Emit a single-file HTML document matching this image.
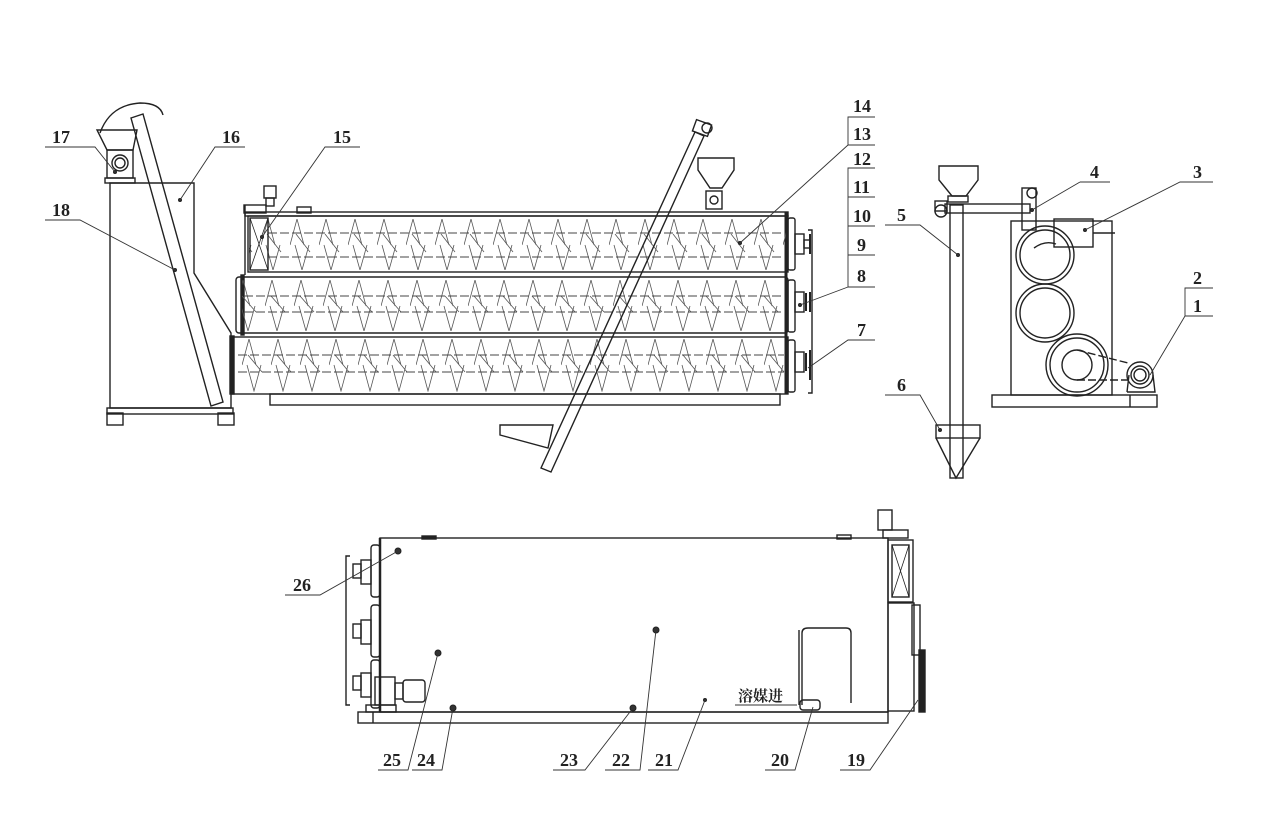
<!DOCTYPE html>
<html><head><meta charset="utf-8"><style>
html,body{margin:0;padding:0;background:#fff;}
svg{display:block}
text{font-family:"Liberation Serif","Noto Serif CJK SC",serif;font-size:18px;font-weight:bold;fill:#222}
</style></head><body>
<svg width="1268" height="826" viewBox="0 0 1268 826" xmlns="http://www.w3.org/2000/svg">
<defs>
<pattern id="s1" patternUnits="userSpaceOnUse" x="0" y="0" width="29" height="826">
 <path d="M0,245 L7,219 L14,245 M5,245 L12,270 L19,245 M6,234 L20,252" fill="none" stroke="#555" stroke-width="0.8"/>
</pattern>
<pattern id="s2" patternUnits="userSpaceOnUse" x="4" y="0" width="29" height="826">
 <path d="M0,306 L7,280 L14,306 M5,306 L12,331 L19,306 M6,296 L20,312" fill="none" stroke="#555" stroke-width="0.8"/>
</pattern>
<pattern id="s3" patternUnits="userSpaceOnUse" x="10" y="0" width="29" height="826">
 <path d="M0,365 L7,339 L14,365 M5,365 L12,391 L19,365 M6,355 L20,372" fill="none" stroke="#555" stroke-width="0.8"/>
</pattern>
</defs>
<g fill="none" stroke="#222" stroke-width="1.4">
<path d="M110,183 L194,183 L194,273 L231,333 L231,408 L110,408 Z"/>
<rect x="107" y="408" width="126" height="6"/>
<rect x="107" y="413" width="16" height="12"/><rect x="218" y="413" width="16" height="12"/>
<path d="M100,133 Q110,105 140,103 Q160,103 163,115" />
<path d="M97,130 L137,130 L133,150 L107,150 Z"/>
<rect x="107" y="150" width="26" height="28"/><circle cx="120" cy="163" r="8"/><circle cx="120" cy="163" r="5"/>
<rect x="105" y="178" width="30" height="5"/>
<path d="M131,118 L143,114 L223,402 L211,406 Z"/>
<rect x="245" y="212" width="543" height="4"/>
<rect x="248" y="216" width="540" height="56"/>
<rect x="236" y="277" width="552" height="56" rx="3"/>
<rect x="232" y="337" width="556" height="57"/>
<rect x="270" y="394" width="510" height="11"/>
<rect x="230" y="336" width="4" height="58" fill="#222"/>
<rect x="241" y="275" width="3" height="60" fill="#222"/>
<line x1="786" y1="212" x2="786" y2="394" stroke-width="3"/>
<rect x="249" y="219" width="537" height="51" fill="url(#s1)" stroke="none"/>
<rect x="242" y="280" width="544" height="51" fill="url(#s2)" stroke="none"/>
<rect x="236" y="339" width="550" height="53" fill="url(#s3)" stroke="none"/>
<g stroke="#444" stroke-width="0.9" stroke-dasharray="9,3">
<line x1="268" y1="233" x2="784" y2="233"/><line x1="268" y1="257" x2="784" y2="257"/>
<line x1="244" y1="296" x2="784" y2="296"/><line x1="244" y1="312" x2="784" y2="312"/>
<line x1="238" y1="355" x2="784" y2="355"/><line x1="238" y1="372" x2="784" y2="372"/>
</g>
<rect x="250" y="218" width="18" height="52"/><path d="M250,218 L268,270 M268,218 L250,270" stroke-width="0.8"/>
<rect x="244" y="205" width="22" height="8"/><line x1="245" y1="205" x2="245" y2="275"/>
<rect x="264" y="186" width="12" height="12"/><rect x="266" y="198" width="8" height="8"/>
<rect x="297" y="207" width="14" height="6"/>
<rect x="788" y="218" width="7" height="52" rx="2"/><rect x="788" y="280" width="7" height="52" rx="2"/><rect x="788" y="340" width="7" height="52" rx="2"/>
<rect x="795" y="234" width="9" height="20"/><rect x="804" y="240" width="6" height="8"/><line x1="810" y1="234" x2="810" y2="254" stroke-width="2"/>
<rect x="795" y="292" width="9" height="20"/><line x1="806" y1="293" x2="806" y2="311" stroke-width="2"/><line x1="810" y1="292" x2="810" y2="312" stroke-width="2"/>
<rect x="795" y="352" width="9" height="20"/><line x1="806" y1="353" x2="806" y2="371" stroke-width="2"/><line x1="810" y1="350" x2="810" y2="380" stroke-width="2"/>
<path d="M808,230 L812,230 L812,393 L808,393"/>
<path d="M695,132 L704,136 L551,472 L541,468 Z"/>
<rect x="694" y="122" width="16" height="12" transform="rotate(20 702 128)"/><circle cx="707" cy="128" r="5"/>
<path d="M500,425 L553,425 L548,448 L500,435 Z"/>
<path d="M698,158 L734,158 L734,170 L722,188 L710,188 L698,170 Z"/>
<rect x="706" y="191" width="16" height="18"/><circle cx="714" cy="200" r="4"/>
<rect x="950" y="205" width="13" height="273"/>
<path d="M939,166 L978,166 L978,180 L966,196 L952,196 L939,180 Z"/>
<rect x="948" y="196" width="20" height="6"/>
<rect x="945" y="204" width="85" height="9"/>
<circle cx="941" cy="211" r="6"/><rect x="935" y="201" width="12" height="10"/>
<rect x="1022" y="188" width="14" height="42"/><circle cx="1032" cy="193" r="5"/>
<rect x="1011" y="221" width="101" height="174"/>
<circle cx="1045" cy="255" r="29"/><circle cx="1045" cy="255" r="25"/>
<path d="M1034,248 Q1045,240 1056,244"/>
<circle cx="1045" cy="313" r="29"/><circle cx="1045" cy="313" r="25"/>
<circle cx="1077" cy="365" r="31"/><circle cx="1077" cy="365" r="27"/><circle cx="1077" cy="365" r="15"/>
<rect x="1054" y="219" width="39" height="28"/><line x1="1093" y1="233" x2="1115" y2="233"/>
<rect x="992" y="395" width="165" height="12"/><line x1="1130" y1="395" x2="1130" y2="407"/>
<circle cx="1140" cy="375" r="13"/><circle cx="1140" cy="375" r="9"/><circle cx="1140" cy="375" r="6"/>
<path d="M1127,392 L1155,392 L1153,375 M1127,392 L1129,375" />
<path d="M1077,350 L1128,363 M1077,380 L1128,380" stroke-dasharray="8,3"/>
<rect x="936" y="425" width="44" height="13"/><path d="M936,438 L956,478 L980,438"/>
<rect x="380" y="538" width="508" height="174"/>
<rect x="358" y="712" width="530" height="11"/><line x1="373" y1="712" x2="373" y2="723"/>
<line x1="380" y1="538" x2="380" y2="712" stroke-width="2.5"/>
<rect x="422" y="536" width="14" height="3" fill="#222"/><rect x="837" y="535" width="14" height="4"/>
<rect x="371" y="545" width="9" height="52" rx="3"/><rect x="371" y="605" width="9" height="52" rx="3"/><rect x="371" y="660" width="9" height="48" rx="3"/>
<rect x="361" y="560" width="10" height="24"/><rect x="353" y="564" width="8" height="14"/>
<rect x="361" y="620" width="10" height="24"/><rect x="353" y="624" width="8" height="14"/>
<rect x="361" y="673" width="10" height="24"/><rect x="353" y="676" width="8" height="14"/>
<path d="M350,556 L346,556 L346,705 L350,705"/>
<rect x="375" y="677" width="20" height="28"/><rect x="395" y="683" width="8" height="16"/><rect x="403" y="680" width="22" height="22" rx="3"/>
<rect x="366" y="705" width="30" height="7"/>
<rect x="878" y="510" width="14" height="20"/><rect x="883" y="530" width="25" height="8"/>
<rect x="888" y="540" width="25" height="62"/><rect x="892" y="545" width="17" height="52"/><path d="M892,545 L909,597 M909,545 L892,597" stroke-width="0.8"/>
<rect x="888" y="603" width="26" height="108"/><rect x="912" y="605" width="8" height="50"/>
<rect x="919" y="650" width="6" height="62" fill="#222"/>
<path d="M802,705 L802,633 Q802,628 808,628 L846,628 Q851,628 851,633 L851,703"/>
<path d="M799,705 L799,630"/>
<rect x="800" y="700" width="20" height="10" rx="3"/>
</g>
<g fill="#333" stroke="#222" stroke-width="1">
<circle cx="398" cy="551" r="3"/><circle cx="438" cy="653" r="3"/><circle cx="453" cy="708" r="3"/><circle cx="633" cy="708" r="3"/><circle cx="656" cy="630" r="3"/>
<circle cx="705" cy="700" r="1.5"/><circle cx="740" cy="243" r="1.5"/><circle cx="800" cy="305" r="1.5"/><circle cx="958" cy="255" r="1.5"/><circle cx="1032" cy="210" r="1.5"/><circle cx="1085" cy="230" r="1.5"/><circle cx="940" cy="430" r="1.5"/><circle cx="262" cy="237" r="1.5"/><circle cx="180" cy="200" r="1.5"/><circle cx="175" cy="270" r="1.5"/><circle cx="115" cy="172" r="1.5"/>
</g>
<g fill="none" stroke="#333" stroke-width="0.9">
<path d="M45,147 L95,147 L115,172"/><path d="M245,147 L215,147 L180,200"/><path d="M45,220 L80,220 L175,270"/><path d="M360,147 L325,147 L262,237"/>
<path d="M875,117 L848,117 L848,145 L875,145 M848,145 L740,243"/>
<path d="M875,168 L848,168 L848,287 L875,287 M848,197 L875,197 M848,226 L875,226 M848,255 L875,255 M848,287 L800,305"/>
<path d="M875,340 L848,340 L808,368"/>
<path d="M1080,182 L1110,182 M1080,182 L1032,210"/><path d="M1213,182 L1180,182 L1085,230"/>
<path d="M885,225 L920,225 L958,255"/><path d="M885,395 L920,395 L940,430"/>
<path d="M1213,288 L1185,288 L1185,316 L1213,316 M1185,316 L1150,375"/>
<path d="M285,595 L320,595 L398,551"/>
<path d="M378,770 L408,770 L438,653"/><path d="M412,770 L442,770 L453,708"/>
<path d="M553,770 L585,770 L633,708"/><path d="M605,770 L640,770 L656,630"/><path d="M648,770 L678,770 L705,700"/>
<path d="M765,770 L795,770 L813,707"/><path d="M840,770 L870,770 L918,700"/>
<path d="M735,705 L797,705"/>
</g>
<g>
<text x="52" y="143">17</text><text x="222" y="143">16</text><text x="52" y="216">18</text><text x="333" y="143">15</text>
<text x="853" y="112">14</text><text x="853" y="140">13</text><text x="853" y="165">12</text><text x="853" y="193">11</text><text x="853" y="222">10</text><text x="857" y="251">9</text><text x="857" y="282">8</text><text x="857" y="336">7</text>
<text x="1090" y="178">4</text><text x="1193" y="178">3</text><text x="897" y="221">5</text><text x="897" y="391">6</text><text x="1193" y="284">2</text><text x="1193" y="312">1</text>
<text x="293" y="591">26</text><text x="383" y="766">25</text><text x="417" y="766">24</text><text x="560" y="766">23</text><text x="612" y="766">22</text><text x="655" y="766">21</text><text x="771" y="766">20</text><text x="847" y="766">19</text>
<text x="738" y="701" style="font-size:15px">溶媒进</text>
</g>
</svg>
</body></html>
